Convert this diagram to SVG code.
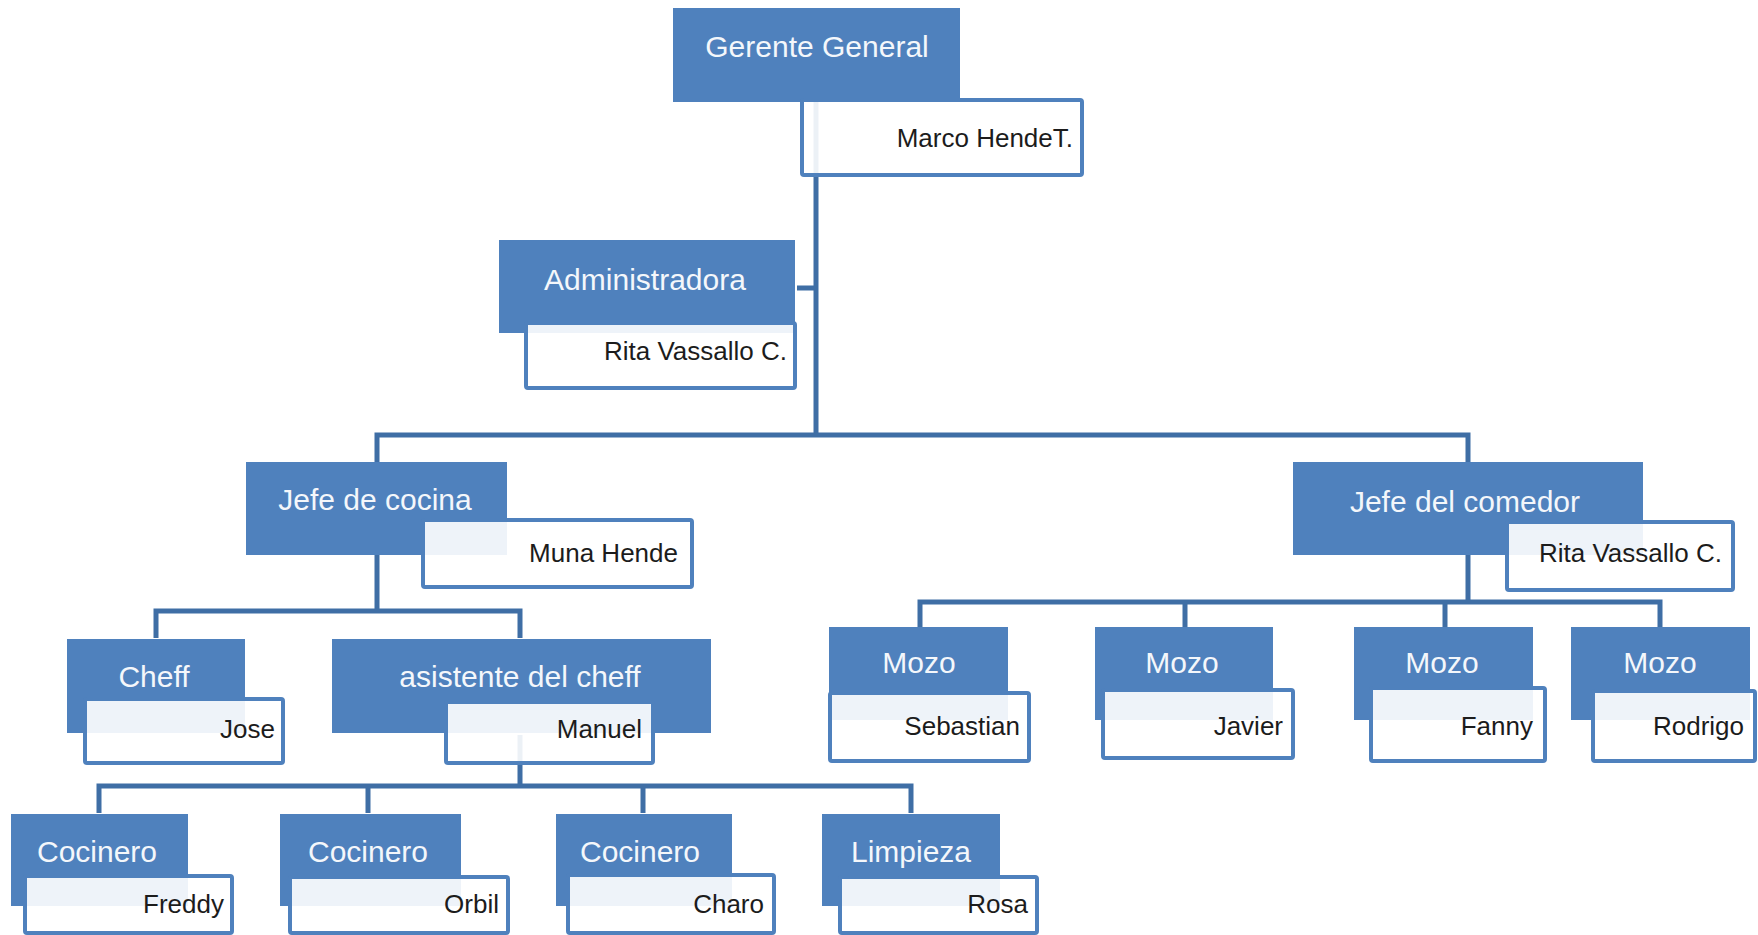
<svg xmlns="http://www.w3.org/2000/svg" width="1758" height="935" viewBox="0 0 1758 935">
<style>
.b{fill:#4F81BD}
.w{fill:#ffffff;fill-opacity:0.9;stroke:#4F81BD;stroke-width:4}
.t{font-family:"Liberation Sans",Arial,sans-serif;font-size:30px;fill:#F4F7FB;text-anchor:middle}
.n{font-family:"Liberation Sans",Arial,sans-serif;font-size:26px;fill:#1c1c1c;text-anchor:end}
.c{fill:none;stroke:#3F6EA5;stroke-width:5}
</style>
<rect width="1758" height="935" fill="#ffffff"/>
<g id="connectors">
<path class="c" d="M816 102V435M797 288H816M377 462V435H1468V462"/>
<path class="c" d="M377 555V611M156 638V611H520V638"/>
<path class="c" d="M520 735V786M99 813V786H911V813M368 786V813M643 786V813"/>
<path class="c" d="M1468 555V602M920 628V602H1660V628M1185 602V628M1445 602V628"/>
</g>
<g id="gerente">
<rect class="b" x="673" y="8" width="287" height="94"/>
<rect class="w" x="802" y="100" width="280" height="75" rx="2"/>
<text class="t" x="817" y="57">Gerente General</text>
<text class="n" x="1073" y="147">Marco HendeT.</text>
</g>
<g id="administradora">
<rect class="b" x="499" y="240" width="296" height="93"/>
<rect class="w" x="526" y="323" width="269" height="65" rx="2"/>
<text class="t" x="645" y="290">Administradora</text>
<text class="n" x="787" y="360">Rita Vassallo  C.</text>
</g>
<g id="jefe-cocina">
<rect class="b" x="246" y="462" width="261" height="93"/>
<rect class="w" x="423" y="520" width="269" height="67" rx="2"/>
<text class="t" x="375" y="510">Jefe de cocina</text>
<text class="n" x="678" y="562">Muna Hende</text>
</g>
<g id="jefe-comedor">
<rect class="b" x="1293" y="462" width="350" height="93"/>
<rect class="w" x="1507" y="522" width="226" height="68" rx="2"/>
<text class="t" x="1465" y="512">Jefe del comedor</text>
<text class="n" x="1722" y="562">Rita Vassallo  C.</text>
</g>
<g id="cheff">
<rect class="b" x="67" y="639" width="178" height="94"/>
<rect class="w" x="85" y="699" width="198" height="64" rx="2"/>
<text class="t" x="154" y="687">Cheff</text>
<text class="n" x="275" y="738">Jose</text>
</g>
<g id="asistente">
<rect class="b" x="332" y="639" width="379" height="94"/>
<rect class="w" x="446" y="702" width="207" height="61" rx="2"/>
<text class="t" x="520" y="687">asistente del cheff</text>
<text class="n" x="642" y="738">Manuel</text>
</g>
<g id="mozo1">
<rect class="b" x="829" y="627" width="179" height="93"/>
<rect class="w" x="830" y="693" width="199" height="68" rx="2"/>
<text class="t" x="919" y="673">Mozo</text>
<text class="n" x="1020" y="735">Sebastian</text>
</g>
<g id="mozo2">
<rect class="b" x="1095" y="627" width="178" height="93"/>
<rect class="w" x="1103" y="690" width="190" height="68" rx="2"/>
<text class="t" x="1182" y="673">Mozo</text>
<text class="n" x="1283" y="735">Javier</text>
</g>
<g id="mozo3">
<rect class="b" x="1354" y="627" width="179" height="93"/>
<rect class="w" x="1371" y="688" width="174" height="73" rx="2"/>
<text class="t" x="1442" y="673">Mozo</text>
<text class="n" x="1533" y="735">Fanny</text>
</g>
<g id="mozo4">
<rect class="b" x="1571" y="627" width="179" height="93"/>
<rect class="w" x="1593" y="691" width="162" height="70" rx="2"/>
<text class="t" x="1660" y="673">Mozo</text>
<text class="n" x="1744" y="735">Rodrigo</text>
</g>
<g id="cocinero1">
<rect class="b" x="11" y="814" width="177" height="92"/>
<rect class="w" x="25" y="876" width="207" height="57" rx="2"/>
<text class="t" x="97" y="862">Cocinero</text>
<text class="n" x="224" y="913">Freddy</text>
</g>
<g id="cocinero2">
<rect class="b" x="280" y="814" width="181" height="92"/>
<rect class="w" x="290" y="877" width="218" height="56" rx="2"/>
<text class="t" x="368" y="862">Cocinero</text>
<text class="n" x="499" y="913">Orbil</text>
</g>
<g id="cocinero3">
<rect class="b" x="556" y="814" width="176" height="92"/>
<rect class="w" x="568" y="875" width="206" height="58" rx="2"/>
<text class="t" x="640" y="862">Cocinero</text>
<text class="n" x="764" y="913">Charo</text>
</g>
<g id="limpieza">
<rect class="b" x="822" y="814" width="178" height="92"/>
<rect class="w" x="840" y="877" width="197" height="56" rx="2"/>
<text class="t" x="911" y="862">Limpieza</text>
<text class="n" x="1028" y="913">Rosa</text>
</g>
</svg>
